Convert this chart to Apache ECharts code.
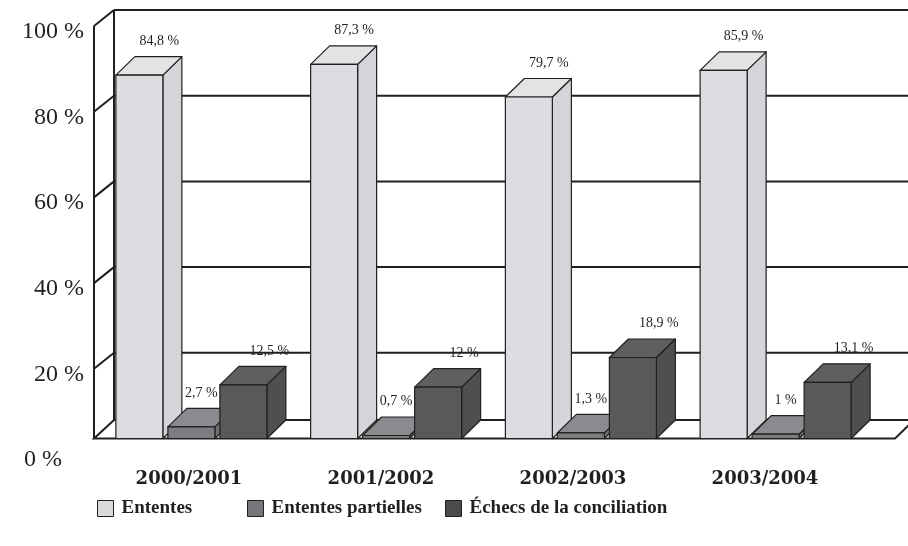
<!DOCTYPE html>
<html>
<head>
<meta charset="utf-8">
<script src="https://cdn.jsdelivr.net/npm/echarts@6/dist/echarts.min.js"></script>
<style>
html,body{margin:0;padding:0;background:#ffffff;}
#chart{width:908px;height:546px;}
</style>
</head>
<body>
<div id="chart"></div>
<script>
// Résultats des séances de conciliation, par année
const categories = ['2000/2001', '2001/2002', '2002/2003', '2003/2004'];
const ententes = [84.8, 87.3, 79.7, 85.9];
const ententesPartielles = [2.7, 0.7, 1.3, 1];
const echecs = [12.5, 12, 18.9, 13.1];
const seriesNames = ['Ententes', 'Ententes partielles', 'Échecs de la conciliation'];
const yTicks = [0, 20, 40, 60, 80, 100];

// Box geometry (pixels)
const BAR_W = 47, BAR_STEP = 52, DX = 19, DY = 18.5;
const WALL_DX = 20, WALL_DY = 16, FLOOR_DY = 18.5;
const INK = '#231f20';
const faces = [
  { front: '#dcdde0', side: '#d4d5d8', top: '#e2e3e5' },
  { front: '#7c7d80', side: '#707174', top: '#8a8b8e' },
  { front: '#58595b', side: '#4e4f51', top: '#5e5f61' }
];
const legendColors = ['#d9dadc', '#76777a', '#4a4b4d'];
const labelShift = [20, 10, 26];
const legendLeft = [92, 242, 440];

function fmt(v) { return String(v).replace('.', ',') + ' %'; }

function boxSeries(k, values) {
  const st = faces[k];
  return {
    type: 'custom',
    name: seriesNames[k],
    xAxisIndex: 0, yAxisIndex: 0,
    z: 3 + k,
    silent: true,
    itemStyle: { color: legendColors[k] },
    data: values.map((v, i) => [i, v]),
    renderItem(params, api) {
      const c = api.value(0), v = api.value(1);
      const base = api.coord([c, 0]);
      const top = api.coord([c, v]);
      const groupW = 2 * BAR_STEP + BAR_W;
      const x0 = base[0] - groupW / 2 + k * BAR_STEP;
      const x1 = x0 + BAR_W;
      const yb = base[1], yt = top[1];
      const edge = { stroke: INK, lineWidth: 1.2, lineJoin: 'round' };
      return {
        type: 'group',
        children: [
          { type: 'polygon', shape: { points: [[x1, yt], [x1 + DX, yt - DY], [x1 + DX, yb - DY], [x1, yb]] },
            style: Object.assign({ fill: st.side }, edge) },
          { type: 'polygon', shape: { points: [[x0, yt], [x0 + DX, yt - DY], [x1 + DX, yt - DY], [x1, yt]] },
            style: Object.assign({ fill: st.top }, edge) },
          { type: 'rect', shape: { x: x0, y: yt, width: BAR_W, height: yb - yt },
            style: Object.assign({ fill: st.front }, edge) },
          { type: 'text', x: (x0 + x1) / 2 + labelShift[k], y: yt - 34,
            style: { text: fmt(v), fill: INK, font: '14px "Liberation Serif"', align: 'center', verticalAlign: 'middle' } }
        ]
      };
    }
  };
}

// Back wall, left wall and floor of the 3D frame
const wallSeries = {
  type: 'custom',
  xAxisIndex: 0, yAxisIndex: 0,
  z: 1,
  silent: true,
  data: yTicks.map(v => [0, v]),
  renderItem(params, api) {
    const cs = params.coordSys;
    const v = api.value(1);
    const y = api.coord([0, v])[1];
    const yBase = api.coord([0, 0])[1];
    const xf = cs.x, xb = cs.x + WALL_DX, xr = 930;
    const line = { stroke: INK, lineWidth: 2, fill: null };
    const kids = [];
    if (v === 0) {
      const xe = cs.x + cs.width + 22;
      kids.push({ type: 'polygon', shape: { points: [[xf, yBase], [xb, yBase - FLOOR_DY], [xe + 19, yBase - FLOOR_DY], [xe, yBase]] },
        style: { fill: '#ffffff', stroke: INK, lineWidth: 2 } });
    } else {
      kids.push({ type: 'line', shape: { x1: xb, y1: y, x2: xr, y2: y }, style: line });
      kids.push({ type: 'line', shape: { x1: xf, y1: y + WALL_DY, x2: xb, y2: y }, style: line });
    }
    if (v === 100) {
      kids.push({ type: 'line', shape: { x1: xf, y1: y + WALL_DY, x2: xf, y2: yBase }, style: line });
      kids.push({ type: 'line', shape: { x1: xb, y1: y, x2: xb, y2: yBase - FLOOR_DY }, style: line });
    }
    return { type: 'group', children: kids };
  }
};

const chart = echarts.init(document.getElementById('chart'), null, { renderer: 'canvas' });
chart.setOption({
  animation: false,
  backgroundColor: '#ffffff',
  grid: [
    { left: 94, right: 35, top: 10, bottom: 107.5 },
    { left: 93, right: 47, top: 32, bottom: 86 }
  ],
  xAxis: [
    { type: 'category', gridIndex: 0, data: categories, show: false },
    { type: 'category', gridIndex: 1, data: categories,
      axisLine: { show: false }, axisTick: { show: false }, splitLine: { show: false },
      axisLabel: { margin: 10, color: INK, fontFamily: 'DejaVu Serif', fontWeight: 'bold', fontSize: 18 } }
  ],
  yAxis: [
    { type: 'value', gridIndex: 0, min: yTicks[0], max: yTicks[yTicks.length - 1], interval: 20, show: false, splitLine: { show: false } },
    { type: 'value', gridIndex: 1, min: yTicks[0], max: yTicks[yTicks.length - 1], interval: yTicks[1] - yTicks[0],
      axisLine: { show: false }, axisTick: { show: false }, splitLine: { show: false },
      axisLabel: {
        margin: 9, color: INK, fontFamily: 'Liberation Serif', fontSize: 24,
        formatter: v => v === 0 ? '{z|' + v + ' %}' : v + ' %',
        rich: { z: { color: INK, fontFamily: 'Liberation Serif', fontSize: 24, padding: [0, 22, 0, 0] } }
      } }
  ],
  legend: seriesNames.map((n, k) => ({
    data: [{ name: n, icon: 'rect', itemStyle: { color: legendColors[k], borderColor: INK, borderWidth: 1 } }],
    left: legendLeft[k], top: 494,
    itemWidth: 16, itemHeight: 16,
    selectedMode: false,
    textStyle: { color: INK, fontFamily: 'Liberation Serif', fontWeight: 'bold', fontSize: 19, padding: [0, 0, 0, 3] }
  })),
  series: [
    wallSeries,
    boxSeries(0, ententes),
    boxSeries(1, ententesPartielles),
    boxSeries(2, echecs)
  ]
});
</script>
</body>
</html>
